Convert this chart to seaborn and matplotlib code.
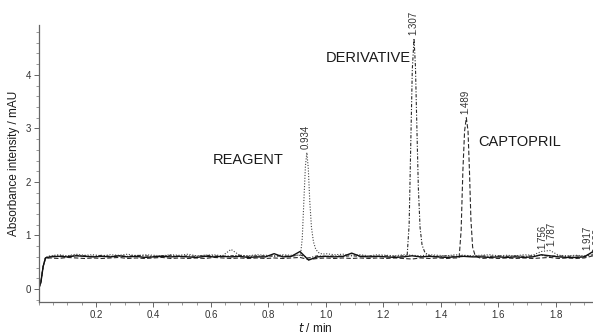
import numpy as np
import pandas as pd
import matplotlib
matplotlib.use("Agg")
import matplotlib.pyplot as plt
import seaborn as sns
from matplotlib.ticker import MultipleLocator

# ---- data ----
t_grid = [0.0, 0.008, 0.016, 0.024, 0.04, 0.07, 0.10, 0.13, 0.16, 0.19,
          0.22, 0.25, 0.28, 0.31, 0.34, 0.37, 0.40, 0.43, 0.46, 0.49,
          0.52, 0.55, 0.58, 0.61, 0.64, 0.67, 0.70, 0.73, 0.76, 0.79,
          0.82, 0.85, 0.88, 0.91, 0.94, 0.97, 1.00, 1.03, 1.06, 1.09,
          1.12, 1.15, 1.18, 1.21, 1.24, 1.27, 1.30, 1.33, 1.36, 1.39,
          1.42, 1.45, 1.48, 1.51, 1.54, 1.57, 1.60, 1.63, 1.66, 1.69,
          1.72, 1.75, 1.78, 1.81, 1.84, 1.87, 1.90, 1.93]

blank_y = [0.00, 0.12, 0.42, 0.58, 0.60, 0.61, 0.60, 0.62, 0.61, 0.60,
           0.61, 0.60, 0.62, 0.60, 0.61, 0.59, 0.60, 0.61, 0.60, 0.61,
           0.60, 0.59, 0.61, 0.60, 0.61, 0.60, 0.61, 0.59, 0.60, 0.60,
           0.66, 0.60, 0.61, 0.70, 0.54, 0.60, 0.61, 0.60, 0.61, 0.67,
           0.61, 0.60, 0.61, 0.60, 0.59, 0.60, 0.62, 0.60, 0.61, 0.60,
           0.59, 0.60, 0.61, 0.60, 0.60, 0.59, 0.60, 0.59, 0.60, 0.59,
           0.60, 0.64, 0.62, 0.60, 0.59, 0.59, 0.60, 0.70]

reagent_y = [0.00, 0.12, 0.42, 0.59, 0.62, 0.64, 0.62, 0.65, 0.63, 0.64,
             0.62, 0.64, 0.63, 0.65, 0.62, 0.64, 0.63, 0.62, 0.64, 0.63,
             0.65, 0.62, 0.63, 0.64, 0.62, 0.74, 0.63, 0.62, 0.64, 0.63,
             0.62, 0.64, 0.63, 0.63, 0.90, 0.70, 0.66, 0.64, 0.65, 0.63,
             0.64, 0.62, 0.64, 0.63, 0.62, 0.64, 0.63, 0.62, 0.64, 0.63,
             0.62, 0.64, 0.63, 0.62, 0.63, 0.64, 0.62, 0.63, 0.62, 0.64,
             0.63, 0.70, 0.72, 0.63, 0.62, 0.63, 0.62, 0.68]
reagent_peak_t = [0.912, 0.918, 0.924, 0.929, 0.934, 0.939, 0.944, 0.950, 0.957, 0.965, 0.975, 0.988]
reagent_peak_y = [0.64, 0.95, 1.70, 2.30, 2.55, 2.25, 1.65, 1.15, 0.88, 0.74, 0.68, 0.65]

deriv_y = [0.00, 0.12, 0.42, 0.58, 0.61, 0.62, 0.61, 0.63, 0.62, 0.61,
           0.63, 0.61, 0.62, 0.61, 0.63, 0.62, 0.61, 0.62, 0.63, 0.61,
           0.62, 0.61, 0.63, 0.62, 0.61, 0.62, 0.63, 0.61, 0.62, 0.62,
           0.61, 0.62, 0.61, 0.64, 0.58, 0.62, 0.61, 0.62, 0.61, 0.62,
           0.61, 0.62, 0.61, 0.62, 0.61, 0.62, 0.62, 0.66, 0.62, 0.61,
           0.62, 0.61, 0.62, 0.61, 0.62, 0.61, 0.62, 0.61, 0.62, 0.61,
           0.62, 0.63, 0.61, 0.62, 0.61, 0.62, 0.61, 0.64]
deriv_peak_t = [1.283, 1.290, 1.296, 1.301, 1.307, 1.312, 1.317, 1.322, 1.328, 1.335, 1.345, 1.358]
deriv_peak_y = [0.62, 1.20, 2.80, 4.10, 4.68, 4.15, 3.00, 1.90, 1.15, 0.82, 0.68, 0.63]

capto_y = [0.00, 0.12, 0.42, 0.57, 0.58, 0.57, 0.59, 0.58, 0.57, 0.58,
           0.57, 0.58, 0.59, 0.57, 0.58, 0.57, 0.58, 0.59, 0.57, 0.58,
           0.57, 0.58, 0.57, 0.59, 0.58, 0.57, 0.58, 0.57, 0.58, 0.57,
           0.58, 0.57, 0.58, 0.59, 0.55, 0.57, 0.58, 0.57, 0.58, 0.57,
           0.58, 0.57, 0.58, 0.57, 0.58, 0.57, 0.56, 0.58, 0.57, 0.58,
           0.57, 0.58, 0.60, 0.58, 0.57, 0.58, 0.57, 0.58, 0.57, 0.58,
           0.57, 0.58, 0.59, 0.57, 0.58, 0.57, 0.58, 0.62]
capto_peak_t = [1.464, 1.471, 1.477, 1.483, 1.489, 1.495, 1.500, 1.505, 1.511, 1.520]
capto_peak_y = [0.58, 1.10, 2.20, 2.95, 3.20, 2.95, 2.20, 1.30, 0.78, 0.62]

peak_label_t = [0.930, 1.304, 1.486, 1.752, 1.784, 1.910, 1.945]
peak_label_y = [2.62, 4.75, 3.27, 0.74, 0.80, 0.72, 0.70]
peak_label_txt = ["0.934", "1.307", "1.489", "1.756", "1.787", "1.917", "1.932"]

names = ["REAGENT", "DERIVATIVE", "CAPTOPRIL"]
name_t = [0.73, 1.146, 1.675]
name_y = [2.41, 4.32, 2.75]

# ---- build traces ----
def merge(tg, yg, pt=None, py=None):
    tg = np.asarray(tg, float); yg = np.asarray(yg, float)
    if pt is None:
        return pd.DataFrame({"t": tg, "y": yg})
    pt = np.asarray(pt, float); py = np.asarray(py, float)
    keep = (tg < pt.min()) | (tg > pt.max())
    t = np.concatenate([tg[keep], pt]); y = np.concatenate([yg[keep], py])
    o = np.argsort(t)
    return pd.DataFrame({"t": t[o], "y": y[o]})

blank = merge(t_grid, blank_y)
reagent = merge(t_grid, reagent_y, reagent_peak_t, reagent_peak_y)
deriv = merge(t_grid, deriv_y, deriv_peak_t, deriv_peak_y)
capto = merge(t_grid, capto_y, capto_peak_t, capto_peak_y)

sns.set_style("ticks")
plt.rcParams["font.family"] = ["Liberation Sans", "DejaVu Sans"]

fig = plt.figure(figsize=(5.93, 3.35), dpi=100)
ax = fig.add_axes([0.065, 0.0985, 0.935, 0.8265])

lc = "#2a2a2a"
sns.lineplot(data=capto, x="t", y="y", ax=ax, color=lc, lw=0.8,
             linestyle=(0, (4, 2)), estimator=None, sort=False)
sns.lineplot(data=deriv, x="t", y="y", ax=ax, color=lc, lw=0.8,
             linestyle=(0, (3, 1.5, 1, 1.5)), estimator=None, sort=False)
sns.lineplot(data=reagent, x="t", y="y", ax=ax, color="#444444", lw=0.8,
             linestyle=(0, (1, 1.5)), estimator=None, sort=False)
sns.lineplot(data=blank, x="t", y="y", ax=ax, color="#111111", lw=1.0,
             estimator=None, sort=False)

for t, y, s in zip(peak_label_t, peak_label_y, peak_label_txt):
    ax.text(t, y, s, rotation=90, ha="center", va="bottom", fontsize=7,
            color="#333333", clip_on=False)
for t, y, s in zip(name_t, name_y, names):
    ax.text(t, y, s, ha="center", va="center", fontsize=10.5, color="#1a1a1a")

ax.set_xlim(0, 1.93)
ax.set_ylim(-0.243, 4.93)
ax.xaxis.set_major_locator(MultipleLocator(0.2))
ax.xaxis.set_minor_locator(MultipleLocator(0.05))
ax.yaxis.set_major_locator(MultipleLocator(1))
ax.yaxis.set_minor_locator(MultipleLocator(0.2))
ax.set_xticks([0.2, 0.4, 0.6, 0.8, 1.0, 1.2, 1.4, 1.6, 1.8])
ax.set_xticklabels(["0.2", "0.4", "0.6", "0.8", "1.0", "1.2", "1.4", "1.6", "1.8"])

sns.despine(ax=ax)
for side in ["left", "bottom"]:
    ax.spines[side].set_color("#666666")
    ax.spines[side].set_linewidth(0.9)
ax.tick_params(which="major", length=3.5, width=0.7, color="#666666",
               labelsize=7, labelcolor="#333333", pad=2)
ax.tick_params(which="minor", length=2, width=0.6, color="#888888")

ax.set_xlabel("$t$ / min", fontsize=8.5, color="#1a1a1a", labelpad=2)
ax.set_ylabel("Absorbance intensity / mAU", fontsize=8.5, color="#1a1a1a", labelpad=4)

fig.savefig("out.png", dpi=100)
